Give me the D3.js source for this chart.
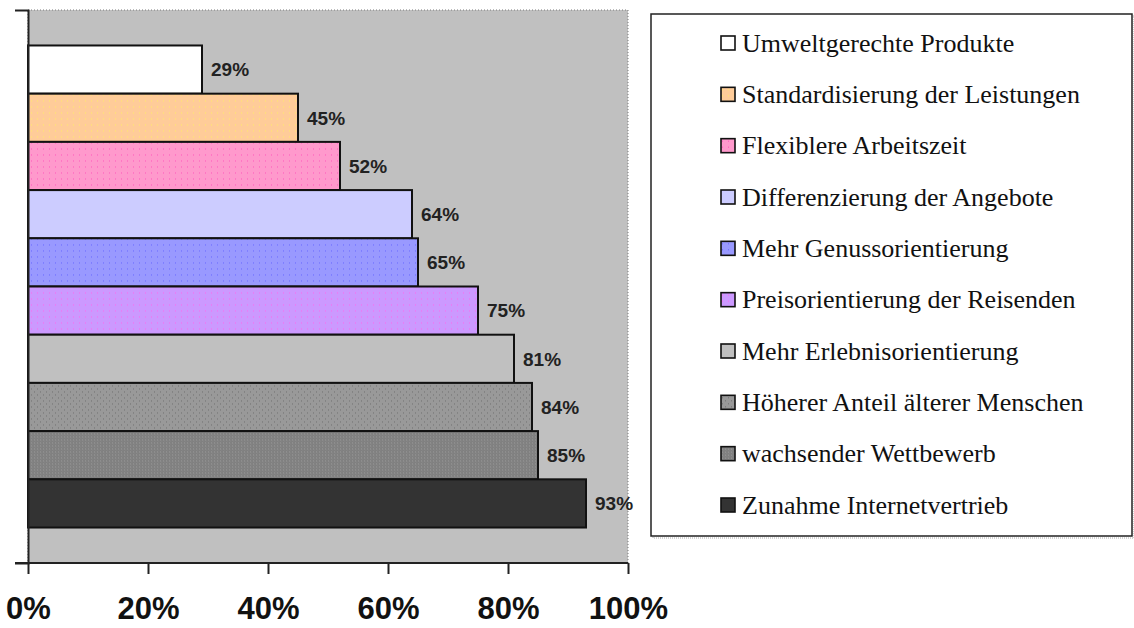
<!DOCTYPE html>
<html>
<head>
<meta charset="utf-8">
<script src="https://cdn.jsdelivr.net/npm/d3@7"></script>
<style>
  html, body { margin: 0; padding: 0; background: #ffffff; }
  svg { display: block; }
</style>
</head>
<body>
<svg id="chart" width="1134" height="628"></svg>
<script>
// ---- data ----
const categories = [
  "Umweltgerechte Produkte",
  "Standardisierung der Leistungen",
  "Flexiblere Arbeitszeit",
  "Differenzierung der Angebote",
  "Mehr Genussorientierung",
  "Preisorientierung der Reisenden",
  "Mehr Erlebnisorientierung",
  "Höherer Anteil älterer Menschen",
  "wachsender Wettbewerb",
  "Zunahme Internetvertrieb"
];
const values = [29, 45, 52, 64, 65, 75, 81, 84, 85, 93];
const xTicks = [0, 20, 40, 60, 80, 100];
const groupLabel = ["Trends"];

// ---- styles ----
const fills = ["#ffffff", "#ffcc99", "#ff99cc", "#ccccff", "#9999ff", "#cc99ff", "#c0c0c0", "#999999", "#808080", "#333333"];
const dotColors = [null, "#ffee66", "#ff55bb", null, "#6666ff", "#ff66ee", null, "#6f6f6f", "#9a9a9a", null];

const svg = d3.select("#chart");
const defs = svg.append("defs");

fills.forEach((f, i) => {
  const pid = "pat" + i;
  const step = i === 8 ? 3 : 6;
  const p = defs.append("pattern").attr("id", pid).attr("patternUnits", "userSpaceOnUse")
    .attr("width", step).attr("height", step);
  p.append("rect").attr("width", step).attr("height", step).attr("fill", f);
  if (dotColors[i]) {
    p.append("rect").attr("x", 1).attr("y", 1).attr("width", 1).attr("height", 1).attr("fill", dotColors[i]);
    if (i === 7 || i === 8) {
      p.append("rect").attr("x", step / 2 + 1).attr("y", step / 2 + 1).attr("width", 1).attr("height", 1).attr("fill", dotColors[i]);
    }
  }
});

// plot area
const X0 = 28, X1 = 628, Y0 = 10, Y1 = 563;

const x = d3.scaleLinear().domain([0, 100]).range([X0, X1]);
const yOuter = d3.scaleBand().domain(groupLabel).range([Y0, Y1]).paddingInner(0).paddingOuter(0.0736);
const yInner = d3.scaleBand().domain(categories).range([0, yOuter.bandwidth()]).padding(0);

// background
svg.append("rect")
  .attr("x", X0).attr("y", Y0).attr("width", X1 - X0).attr("height", Y1 - Y0)
  .attr("fill", "#c0c0c0")
  .attr("stroke", "#7a7a7a").attr("stroke-width", 1).attr("stroke-dasharray", "1,2");

// bars
const g = svg.append("g").attr("transform", `translate(0,${yOuter(groupLabel[0])})`);
g.selectAll("rect.bar").data(categories).join("rect")
  .attr("class", "bar")
  .attr("x", x(0))
  .attr("y", d => yInner(d))
  .attr("width", (d, i) => x(values[i]) - x(0))
  .attr("height", yInner.bandwidth())
  .attr("fill", (d, i) => `url(#pat${i})`)
  .attr("stroke", "#111")
  .attr("stroke-width", 2);

// data labels
g.selectAll("text.lbl").data(categories).join("text")
  .attr("class", "lbl")
  .attr("x", (d, i) => x(values[i]) + 9)
  .attr("y", d => yInner(d) + yInner.bandwidth() / 2)
  .attr("dy", "0.36em")
  .attr("font-family", "Liberation Sans, Arial, sans-serif")
  .attr("font-weight", "bold")
  .attr("font-size", 19)
  .attr("fill", "#222")
  .text((d, i) => values[i] + "%");

// x axis
const xAxis = d3.axisBottom(x).tickValues(xTicks).tickFormat(d => d + "%").tickSize(11).tickSizeOuter(0).tickPadding(23);
const gx = svg.append("g").attr("transform", `translate(0,${Y1})`).call(xAxis);
gx.select(".domain").attr("stroke", "#222").attr("stroke-width", 2).attr("d", `M${X0 - 13},0H${X1}`);
gx.selectAll(".tick line").attr("stroke", "#222").attr("stroke-width", 2);
gx.selectAll(".tick text")
  .attr("font-family", "Liberation Sans, Arial, sans-serif")
  .attr("font-weight", "bold")
  .attr("font-size", 31)
  .attr("fill", "#111");

// y axis (category axis, single group)
const yAxis = d3.axisLeft(yOuter).tickSize(0).tickSizeOuter(13).tickFormat("");
const gy = svg.append("g").attr("transform", `translate(${X0},0)`).call(yAxis);
gy.select(".domain").attr("stroke", "#222").attr("stroke-width", 2);

// legend
const LX = 651, LY = 14, LW = 481, LH = 522;
svg.append("rect").attr("x", LX + 2).attr("y", LY + 2).attr("width", LW).attr("height", LH)
  .attr("fill", "none").attr("stroke", "#aaa").attr("stroke-width", 1).attr("stroke-dasharray", "1,1");
svg.append("rect").attr("x", LX).attr("y", LY).attr("width", LW).attr("height", LH)
  .attr("fill", "#ffffff").attr("stroke", "#222").attr("stroke-width", 1.5);

const legY = d3.scalePoint().domain(categories).range([43, 505]);
const leg = svg.append("g").selectAll("g").data(categories).join("g")
  .attr("transform", d => `translate(721,${legY(d)})`);
leg.append("rect")
  .attr("x", 0).attr("y", -7).attr("width", 14).attr("height", 14)
  .attr("fill", (d, i) => `url(#pat${i})`)
  .attr("stroke", "#111").attr("stroke-width", 1.6);
leg.append("text")
  .attr("x", 21).attr("y", 0).attr("dy", "0.33em")
  .attr("font-family", "Liberation Serif, Times New Roman, serif")
  .attr("font-size", 26)
  .attr("fill", "#111")
  .text(d => d);
</script>
</body>
</html>
